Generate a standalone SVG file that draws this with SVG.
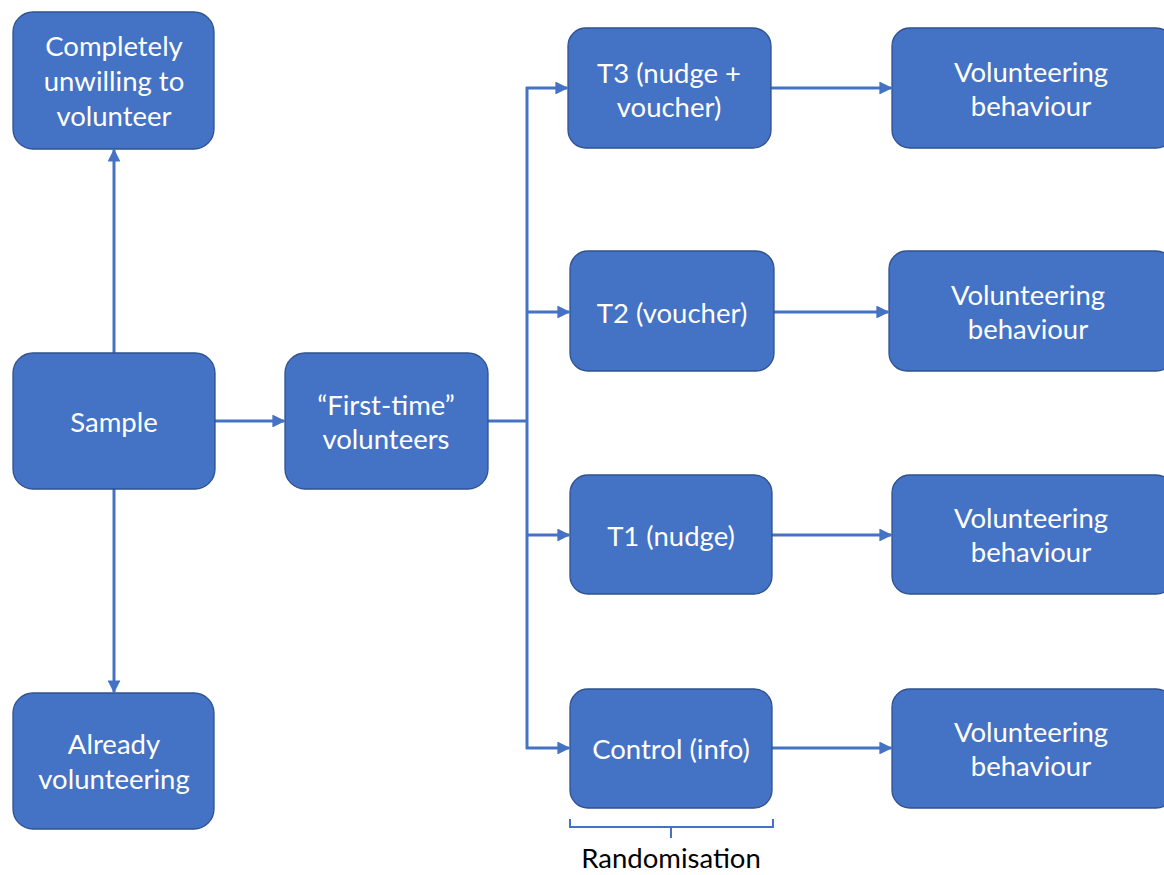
<svg xmlns="http://www.w3.org/2000/svg" width="1164" height="875" viewBox="0 0 1164 875">
<defs>
<marker id="ah" viewBox="0 0 10 10" refX="9" refY="5" markerWidth="4.3" markerHeight="4.3" orient="auto" markerUnits="strokeWidth">
<path d="M0,0 L10,5 L0,10 z" fill="#4472C4"/>
</marker>
<style>
.n{fill:#4472C4;stroke:#2F528F;stroke-width:1.3}
.t{font-family:Lato,"Open Sans","Liberation Sans",sans-serif;font-size:27.5px;fill:#FFFFFF;text-anchor:middle;dominant-baseline:central}
.c{fill:none;stroke:#4472C4;stroke-width:3}
.a{marker-end:url(#ah)}
</style>
</defs>
<rect width="1164" height="875" fill="#FFFFFF"/>
<g id="connectors">
<line class="c a" x1="114" y1="353" x2="114" y2="150"/>
<line class="c a" x1="114" y1="489" x2="114" y2="692"/>
<line class="c a" x1="215" y1="421" x2="284" y2="421"/>
<polyline class="c" points="488,421 527,421"/>
<line class="c" x1="527" y1="87" x2="527" y2="749"/>
<line class="c a" x1="526" y1="88" x2="567" y2="88"/>
<line class="c a" x1="526" y1="312" x2="569" y2="312"/>
<line class="c a" x1="526" y1="535" x2="569" y2="535"/>
<line class="c a" x1="526" y1="748" x2="569" y2="748"/>
<line class="c a" x1="771" y1="88" x2="891" y2="88"/>
<line class="c a" x1="774" y1="312" x2="888" y2="312"/>
<line class="c a" x1="772" y1="535" x2="891" y2="535"/>
<line class="c a" x1="772" y1="748" x2="891" y2="748"/>
</g>
<g id="unwilling"><rect class="n" x="13" y="12" width="201" height="137" rx="20"/>
<text class="t" x="114" y="45">Completely</text><text class="t" x="114" y="80">unwilling to</text><text class="t" x="114" y="115">volunteer</text></g>
<g id="sample"><rect class="n" x="13" y="353" width="202" height="136" rx="20"/>
<text class="t" x="114" y="421">Sample</text></g>
<g id="already"><rect class="n" x="13" y="693" width="201" height="136" rx="20"/>
<text class="t" x="114" y="743">Already</text><text class="t" x="114" y="778">volunteering</text></g>
<g id="firsttime"><rect class="n" x="285" y="353" width="203" height="136" rx="20"/>
<text class="t" x="386" y="404">“First-time”</text><text class="t" x="386" y="438">volunteers</text></g>
<g id="t3"><rect class="n" x="568" y="28" width="203" height="120" rx="18"/>
<text class="t" x="669" y="72">T3 (nudge +</text><text class="t" x="669" y="106">voucher)</text></g>
<g id="t2"><rect class="n" x="570" y="251" width="204" height="120" rx="18"/>
<text class="t" x="672" y="312">T2 (voucher)</text></g>
<g id="t1"><rect class="n" x="570" y="475" width="202" height="119" rx="18"/>
<text class="t" x="671" y="535">T1 (nudge)</text></g>
<g id="control"><rect class="n" x="570" y="689" width="202" height="119" rx="18"/>
<text class="t" x="671" y="748">Control (info)</text></g>
<g id="vb3"><rect class="n" x="892" y="28" width="282" height="120" rx="18"/>
<text class="t" x="1031" y="71">Volunteering</text><text class="t" x="1031" y="105">behaviour</text></g>
<g id="vb2"><rect class="n" x="889" y="251" width="285" height="120" rx="18"/>
<text class="t" x="1028" y="294">Volunteering</text><text class="t" x="1028" y="328">behaviour</text></g>
<g id="vb1"><rect class="n" x="892" y="475" width="282" height="119" rx="18"/>
<text class="t" x="1031" y="517">Volunteering</text><text class="t" x="1031" y="551">behaviour</text></g>
<g id="vbc"><rect class="n" x="892" y="689" width="282" height="119" rx="18"/>
<text class="t" x="1031" y="731">Volunteering</text><text class="t" x="1031" y="765">behaviour</text></g>
<g id="randomisation">
<path d="M570,819 V827 H773 V819 M671,827 V838" fill="none" stroke="#4472C4" stroke-width="2"/>
<text x="671" y="857" font-family="Lato,'Open Sans','Liberation Sans',sans-serif" font-size="27.5" fill="#000000" text-anchor="middle" dominant-baseline="central">Randomisation</text>
</g>
</svg>
